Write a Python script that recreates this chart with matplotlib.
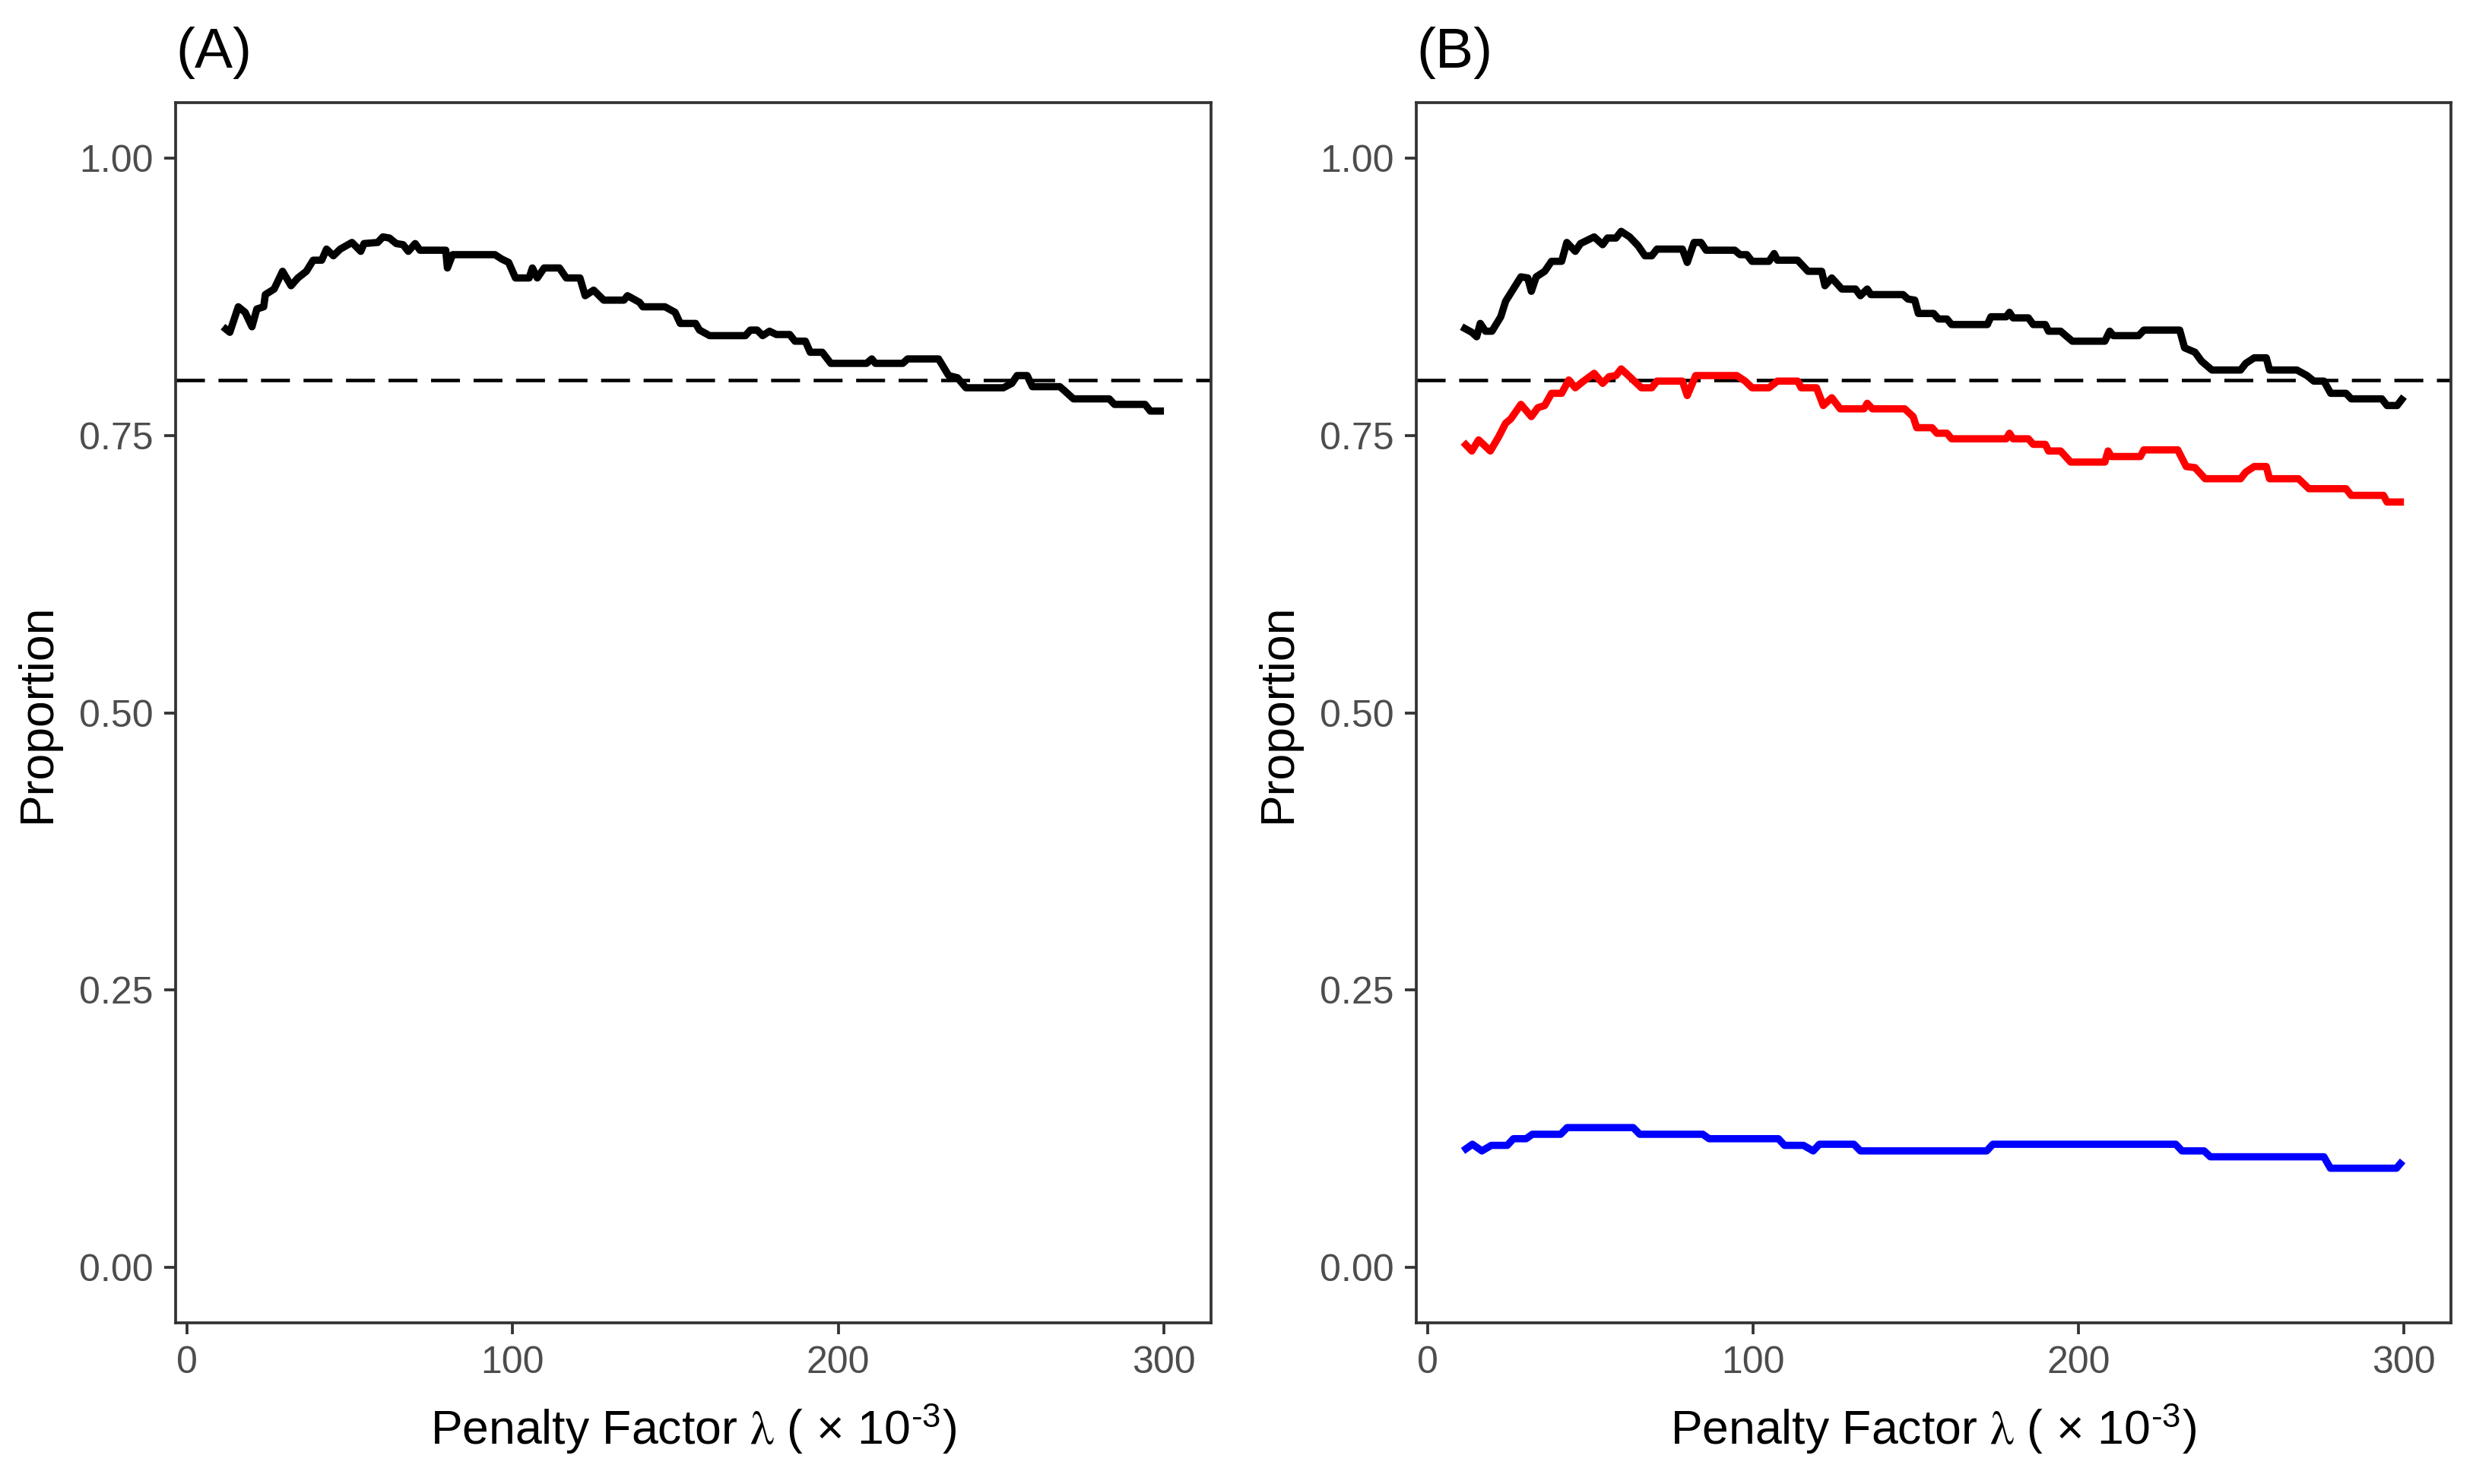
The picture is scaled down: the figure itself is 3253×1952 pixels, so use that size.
import matplotlib
matplotlib.use("Agg")
import matplotlib.pyplot as plt

plt.rcParams["font.family"] = ["Liberation Sans", "DejaVu Sans"]
plt.rcParams["mathtext.fontset"] = "custom"
plt.rcParams["mathtext.rm"] = "Liberation Sans"
plt.rcParams["mathtext.it"] = "STIXGeneral"

# Panel A: overall proportion vs penalty factor
a_x = [11.1, 13.2, 15.8, 17.9, 20.0, 21.5, 23.6, 24.1, 26.8, 29.4, 32.0, 34.1, 36.7, 38.8,
       41.4, 42.9, 45.0, 47.1, 50.7, 53.4, 54.4, 58.6, 60.2, 62.2, 64.3, 66.4, 68.0, 70.1,
       71.6, 79.5, 80.0, 81.6, 94.6, 96.7, 98.8, 100.9, 105.1, 106.1, 107.6, 109.7, 114.4,
       116.5, 120.7, 122.3, 124.9, 128.0, 134.2, 135.3, 139.0, 140.0, 146.8, 149.9, 151.5,
       156.2, 157.4, 160.5, 171.5, 173.0, 175.1, 176.8, 178.9, 181.0, 185.1, 186.7, 189.9,
       191.4, 195.1, 197.7, 208.7, 210.3, 211.4, 219.8, 221.3, 230.8, 233.9, 236.6, 239.2,
       250.7, 253.3, 254.9, 258.0, 259.6, 268.0, 269.6, 272.2, 283.2, 284.8, 294.2, 295.8,
       300.0]
a_y = [0.848, 0.843, 0.866, 0.861, 0.848, 0.864, 0.866, 0.877, 0.882, 0.898, 0.885, 0.892,
       0.898, 0.908, 0.908, 0.918, 0.912, 0.918, 0.924, 0.916, 0.923, 0.924, 0.929, 0.928,
       0.923, 0.922, 0.916, 0.923, 0.917, 0.917, 0.901, 0.913, 0.913, 0.909, 0.906, 0.892,
       0.892, 0.901, 0.892, 0.901, 0.901, 0.892, 0.892, 0.876, 0.881, 0.872, 0.872, 0.876,
       0.870, 0.866, 0.866, 0.861, 0.851, 0.851, 0.845, 0.840, 0.840, 0.845, 0.845, 0.840,
       0.844, 0.841, 0.841, 0.835, 0.835, 0.825, 0.825, 0.815, 0.815, 0.819, 0.815, 0.815,
       0.819, 0.819, 0.804, 0.802, 0.793, 0.793, 0.797, 0.804, 0.804, 0.794, 0.794, 0.790,
       0.783, 0.783, 0.778, 0.778, 0.772, 0.772]

# Panel B: total (black), first component (red), second component (blue)
b_black_x = [10.5, 13.6, 15.1, 16.2, 17.8, 19.8, 22.5, 24.0, 28.7, 30.8, 31.9, 33.4, 36.0,
             38.1, 41.2, 42.8, 45.4, 47.0, 51.2, 53.8, 55.3, 57.9, 59.5, 62.1, 64.7, 66.8,
             68.9, 70.5, 78.3, 79.8, 81.9, 84.0, 85.6, 94.4, 96.0, 98.1, 99.7, 104.9, 106.5,
             107.5, 113.7, 116.9, 121.1, 122.1, 124.2, 127.3, 131.5, 133.0, 135.1, 136.2,
             146.1, 147.6, 149.7, 150.8, 155.5, 157.0, 159.6, 161.0, 172.0, 173.1, 177.8,
             178.8, 179.9, 184.6, 186.1, 189.8, 190.8, 194.5, 198.1, 208.1, 209.6, 210.7,
             218.5, 220.1, 231.1, 232.6, 235.8, 237.8, 241.0, 249.8, 251.4, 254.0, 257.7,
             258.7, 267.1, 270.2, 272.3, 275.4, 277.5, 282.2, 283.8, 293.2, 294.8, 297.9,
             300.0]
b_black_y = [0.848, 0.843, 0.839, 0.851, 0.844, 0.844, 0.857, 0.871, 0.893, 0.892, 0.880,
             0.893, 0.898, 0.907, 0.907, 0.924, 0.916, 0.923, 0.929, 0.922, 0.928, 0.928,
             0.934, 0.929, 0.921, 0.912, 0.912, 0.918, 0.918, 0.906, 0.924, 0.924, 0.917,
             0.917, 0.913, 0.913, 0.907, 0.907, 0.914, 0.908, 0.908, 0.898, 0.898, 0.885,
             0.892, 0.882, 0.882, 0.876, 0.882, 0.877, 0.877, 0.873, 0.872, 0.860, 0.860,
             0.855, 0.855, 0.850, 0.850, 0.857, 0.857, 0.861, 0.856, 0.856, 0.850, 0.850,
             0.844, 0.844, 0.835, 0.835, 0.844, 0.840, 0.840, 0.845, 0.845, 0.829, 0.825,
             0.817, 0.809, 0.809, 0.815, 0.820, 0.820, 0.809, 0.809, 0.804, 0.799, 0.799,
             0.788, 0.788, 0.783, 0.783, 0.777, 0.777, 0.785]

b_red_x = [11.0, 13.6, 15.7, 19.3, 21.9, 24.0, 25.6, 28.7, 31.9, 33.9, 36.0, 38.1, 41.2,
           43.4, 45.4, 47.5, 51.2, 53.8, 55.8, 57.9, 59.5, 62.1, 65.7, 68.9, 70.5, 78.3,
           79.8, 82.4, 95.0, 97.6, 99.7, 104.9, 107.5, 113.7, 114.8, 119.5, 121.6, 124.2,
           126.8, 134.1, 135.1, 136.7, 146.6, 149.2, 150.3, 155.0, 156.5, 159.6, 161.0,
           177.8, 178.8, 179.9, 184.6, 186.1, 189.8, 190.8, 194.5, 197.6, 208.1, 209.1,
           210.1, 219.0, 220.1, 230.5, 233.1, 235.8, 238.9, 249.8, 251.4, 254.0, 257.7,
           258.7, 267.6, 270.8, 282.2, 283.8, 293.7, 294.8, 300.0]
b_red_y = [0.744, 0.736, 0.746, 0.736, 0.749, 0.761, 0.765, 0.778, 0.767, 0.775, 0.777,
           0.788, 0.788, 0.800, 0.793, 0.798, 0.806, 0.797, 0.803, 0.804, 0.810, 0.803,
           0.793, 0.793, 0.799, 0.799, 0.786, 0.804, 0.804, 0.799, 0.793, 0.793, 0.799,
           0.799, 0.793, 0.793, 0.777, 0.784, 0.774, 0.774, 0.779, 0.774, 0.774, 0.767,
           0.757, 0.757, 0.752, 0.752, 0.747, 0.747, 0.752, 0.747, 0.747, 0.742, 0.742,
           0.736, 0.736, 0.726, 0.726, 0.736, 0.731, 0.731, 0.737, 0.737, 0.722, 0.721,
           0.711, 0.711, 0.717, 0.722, 0.722, 0.711, 0.711, 0.702, 0.702, 0.696, 0.696,
           0.690, 0.690]

b_blue_x = [10.9, 13.8, 16.7, 19.6, 24.5, 26.4, 30.3, 32.2, 40.9, 42.9, 63.2, 65.2, 84.6,
            86.5, 107.8, 109.7, 115.5, 118.5, 120.4, 131.0, 133.0, 171.8, 173.7, 229.9,
            231.8, 238.6, 240.5, 275.4, 277.4, 297.7, 299.6]
b_blue_y = [0.105, 0.111, 0.105, 0.110, 0.110, 0.116, 0.116, 0.120, 0.120, 0.126, 0.126,
            0.120, 0.120, 0.116, 0.116, 0.110, 0.110, 0.105, 0.111, 0.111, 0.105, 0.105,
            0.111, 0.111, 0.105, 0.105, 0.0997, 0.0997, 0.0894, 0.0894, 0.096]

target = 0.8
x_ticks = [0, 100, 200, 300]
y_ticks = [0.00, 0.25, 0.50, 0.75, 1.00]

TICK_GREY = "#4D4D4D"
FRAME_GREY = "#333333"


def style_axis(ax, title):
    ax.set_xlim(-3.45, 314.45)
    ax.set_ylim(-0.05, 1.05)
    ax.set_xticks(x_ticks)
    ax.set_yticks(y_ticks)
    ax.set_yticklabels([f"{v:.2f}" for v in y_ticks])
    ax.tick_params(length=3.6, width=0.9, color=FRAME_GREY, labelcolor=TICK_GREY,
                   labelsize=12, pad=3.5)
    for s in ax.spines.values():
        s.set_color(FRAME_GREY)
        s.set_linewidth(0.9)
    ax.set_xlabel(r"Penalty Factor $\lambda$ $(\,\times\,10^{\text{-3}})$", fontsize=15,
                  labelpad=7)
    ax.set_ylabel("Proportion", fontsize=15, labelpad=6)
    ax.set_title(title, loc="left", fontsize=18, pad=11)
    ax.axhline(target, color="black", lw=1.1, linestyle=(0, (8.3, 3.9)), zorder=1)


line_kw = dict(lw=2.3, solid_capstyle="butt", solid_joinstyle="round", zorder=2)

fig = plt.figure(figsize=(3253 / 300, 1952 / 300), dpi=300)
ax_a = fig.add_axes([0.0710, 0.1086, 0.4187, 0.8222])
ax_b = fig.add_axes([0.5727, 0.1086, 0.4184, 0.8222])

style_axis(ax_a, "(A)")
ax_a.plot(a_x, a_y, color="black", **line_kw)

style_axis(ax_b, "(B)")
ax_b.plot(b_black_x, b_black_y, color="black", **line_kw)
ax_b.plot(b_red_x, b_red_y, color="#FF0000", **line_kw)
ax_b.plot(b_blue_x, b_blue_y, color="#0000FF", **line_kw)

fig.savefig("out.png", dpi=300, facecolor="white")
